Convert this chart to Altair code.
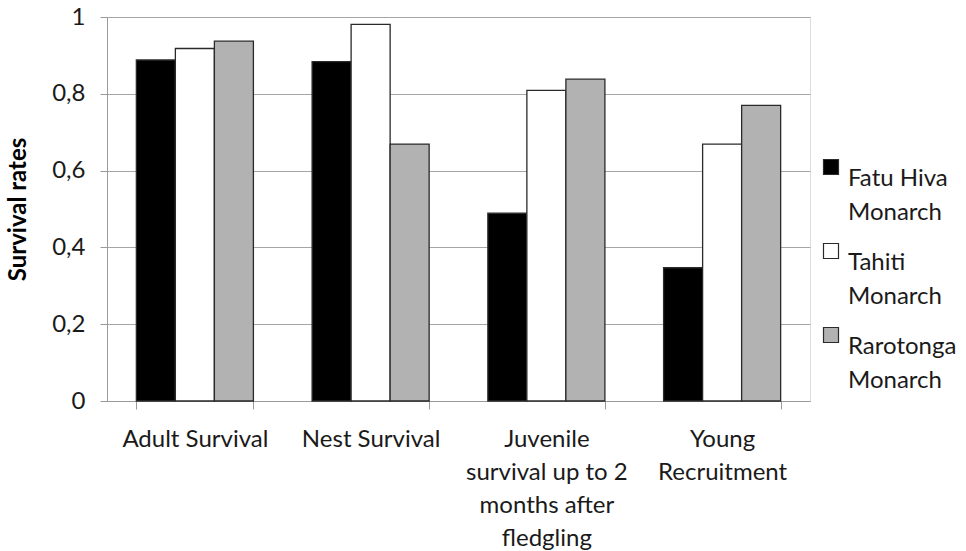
import altair as alt
import pandas as pd

# Survival rates per life stage for three monarch species
stages = [
    "Adult Survival",
    "Nest Survival",
    "Juvenile|survival up to 2|months after|fledgling",
    "Young|Recruitment",
]
species = ["Fatu Hiva|Monarch", "Tahiti|Monarch", "Rarotonga|Monarch"]
fatu_hiva = [0.888, 0.884, 0.489, 0.347]
tahiti = [0.918, 0.981, 0.809, 0.669]
rarotonga = [0.937, 0.669, 0.838, 0.770]
bar_colors = ["#000000", "#ffffff", "#b2b2b2"]

rows = []
for sp, vals in zip(species, [fatu_hiva, tahiti, rarotonga]):
    for st, v in zip(stages, vals):
        rows.append({"stage": st, "species": sp, "rate": v})
df = pd.DataFrame(rows)

FONT = "Lato"
TEXT = "#1a1a1a"

chart = (
    alt.Chart(df)
    .mark_bar(stroke="#2a2a2a", strokeWidth=1.3)
    .encode(
        x=alt.X(
            "stage:N",
            sort=stages,
            scale=alt.Scale(paddingInner=0.334, paddingOuter=0.167),
            axis=alt.Axis(
                title=None,
                labelAngle=0,
                labelExpr="split(datum.label, '|')",
                labelFontSize=24,
                labelFont=FONT,
                labelColor=TEXT,
                labelPadding=18,
                labelLineHeight=33,
                labelBaseline="top",
                labelLimit=300,
                tickBand="extent",
                tickSize=8,
                tickColor="#9a9a9a",
                domainColor="#9a9a9a",
                grid=False,
            ),
        ),
        xOffset=alt.XOffset("species:N", sort=species, scale=alt.Scale(paddingInner=0, paddingOuter=0)),
        y=alt.Y(
            "rate:Q",
            scale=alt.Scale(domain=[0, 1]),
            axis=alt.Axis(
                title="Survival rates",
                titleFont=FONT,
                titleFontSize=24,
                titleFontWeight="bold",
                titleColor="#000000",
                titlePadding=21,
                values=[0, 0.2, 0.4, 0.6, 0.8, 1],
                labelExpr="replace(format(datum.value, '~g'), '.', ',')",
                labelFont=FONT,
                labelFontSize=24,
                labelColor=TEXT,
                labelPadding=15,
                tickSize=7,
                tickColor="#9a9a9a",
                domainColor="#9a9a9a",
                gridColor="#a6a6a6",
                gridWidth=1.2,
            ),
        ),
        color=alt.Color(
            "species:N",
            sort=species,
            scale=alt.Scale(domain=species, range=bar_colors),
            legend=alt.Legend(
                title=None,
                orient="none",
                legendX=712,
                legendY=138,
                symbolType="square",
                symbolSize=225,
                symbolStrokeColor="#2a2a2a",
                symbolStrokeWidth=1.2,
                labelExpr="split(datum.label, '|')",
                labelFont=FONT,
                labelFontSize=24,
                labelColor=TEXT,
                labelBaseline="top",
                labelOffset=5,
                rowPadding=14,
                labelLimit=200,
            ),
        ),
    )
    .properties(
        width=703,
        height=384,
        autosize=alt.AutoSizeParams(type="none"),
        padding={"left": 107, "top": 17, "right": 156, "bottom": 150},
    )
    .configure_view(stroke=None)
    .configure(background="#ffffff", style={"guide-label": {"lineHeight": 34}})
)

chart.save("out.html", embed_options={"renderer": "svg", "actions": False})
